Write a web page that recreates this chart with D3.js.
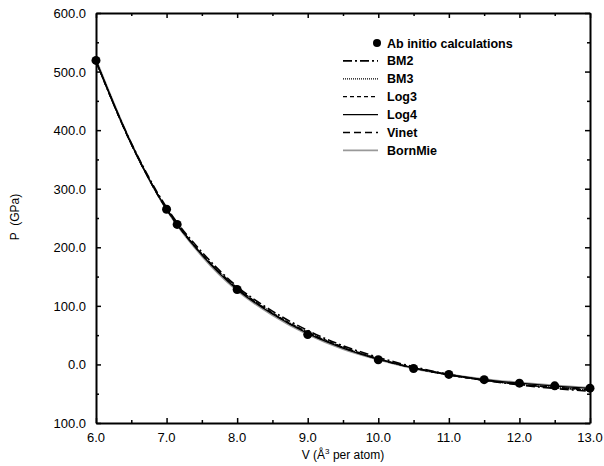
<!DOCTYPE html>
<html>
<head>
<meta charset="utf-8">
<script src="https://cdn.jsdelivr.net/npm/d3@7"></script>
<style>
  body { margin: 0; background: #fff; }
  svg { display: block; font-family: "Liberation Sans", Arial, sans-serif; }
</style>
</head>
<body>
<div id="chart"></div>
<script>
// ab initio points
const abV = [6.0, 7.0, 7.15, 8.0, 9.0, 10.0, 10.5, 11.0, 11.5, 12.0, 12.5, 13.0]
const abP = [519, 265, 239, 128, 51, 8, -7, -17, -26, -32, -36.5, -40.5]

// fitted curves, sampled every 0.5 A^3
const fitV = [6.0, 6.5, 7.0, 7.5, 8.0, 8.5, 9.0, 9.5, 10.0, 10.5, 11.0, 11.5, 12.0, 12.5, 13.0]
const bm2 = [517, 378, 268, 192, 133, 91, 58, 32, 12, -4, -17, -27, -35, -41, -46]
const bm3 = [518, 376, 265, 188, 130, 88, 55, 29, 10, -6, -18, -27, -34, -39, -44]
const log3 = [518, 376, 266, 189, 131, 88, 55, 30, 10, -6, -18, -27, -34, -40, -44]
const log4 = [519, 377, 265, 187, 128, 86, 53, 28, 9, -6, -17, -26, -32, -37, -41]
const vinet = [518, 376, 265, 188, 130, 87, 54, 29, 9, -6, -18, -27, -34, -39, -43]
const bornMie = [521, 378, 264, 185, 126, 84, 51, 26, 8, -7, -17, -25, -31, -36, -40]

const xTicks = [6, 7, 8, 9, 10, 11, 12, 13]
const yTicks = [-100, 0, 100, 200, 300, 400, 500, 600]
const yTickLabels = ['100.0', '0.0', '100.0', '200.0', '300.0', '400.0', '500.0', '600.0']

const series = [
  {name: 'BM2', values: bm2, color: '#000', width: 1.6, dash: '9,3,2,3'},
  {name: 'BM3', values: bm3, color: '#000', width: 1.3, dash: '1,1'},
  {name: 'Log3', values: log3, color: '#000', width: 1.3, dash: '4,3'},
  {name: 'Log4', values: log4, color: '#000', width: 1.3, dash: null},
  {name: 'Vinet', values: vinet, color: '#000', width: 1.5, dash: '7,4'},
  {name: 'BornMie', values: bornMie, color: '#999', width: 1.8, dash: null}
]

const width = 604, height = 466
const margin = {top: 13, right: 14, bottom: 43, left: 96}
const w = width - margin.left - margin.right
const h = height - margin.top - margin.bottom

const svg = d3.select('#chart').append('svg')
  .attr('width', width)
  .attr('height', height)
const g = svg.append('g').attr('transform', `translate(${margin.left},${margin.top})`)

const x = d3.scaleLinear().domain([6, 13]).range([0, w])
const y = d3.scaleLinear().domain([-100, 600]).range([h, 0])

// frame with inward ticks on all sides
const xMinor = d3.range(6, 13.01, 0.5)
const yMinor = d3.range(-100, 600.1, 50)
const tickLen = v => Number.isInteger(v) ? 5 : 3
const yLen = v => v % 100 === 0 ? 5 : 3

const axB = g.append('g').attr('transform', `translate(0,${h})`)
  .call(d3.axisBottom(x).tickValues(xMinor).tickSize(0).tickFormat(''))
axB.selectAll('.tick line').attr('y2', d => -tickLen(d))
const axT = g.append('g')
  .call(d3.axisTop(x).tickValues(xMinor).tickSize(0).tickFormat(''))
axT.selectAll('.tick line').attr('y2', d => tickLen(d))
const axL = g.append('g')
  .call(d3.axisLeft(y).tickValues(yMinor).tickSize(0).tickFormat(''))
axL.selectAll('.tick line').attr('x2', d => yLen(d))
const axR = g.append('g').attr('transform', `translate(${w},0)`)
  .call(d3.axisRight(y).tickValues(yMinor).tickSize(0).tickFormat(''))
axR.selectAll('.tick line').attr('x2', d => -yLen(d))
g.selectAll('.domain').attr('stroke', '#000').attr('stroke-width', 2)
g.selectAll('.tick line').attr('stroke', '#000').attr('stroke-width', 1.5)

// tick labels
g.selectAll('.xlab').data(xTicks).enter().append('text')
  .attr('x', d => x(d)).attr('y', h + 19)
  .attr('text-anchor', 'middle').attr('font-size', 13)
  .text(d => d.toFixed(1))
g.selectAll('.ylab').data(yTicks).enter().append('text')
  .attr('x', -10).attr('y', d => y(d) + 5)
  .attr('text-anchor', 'end').attr('font-size', 13)
  .text((d, i) => yTickLabels[i])

// axis titles
const xt = svg.append('text')
  .attr('x', margin.left + w / 2).attr('y', 459)
  .attr('text-anchor', 'middle').attr('font-size', 12)
  .style('white-space', 'pre')
xt.append('tspan').text('V (Å')
xt.append('tspan').attr('dy', -5).attr('font-size', 8).text('3')
xt.append('tspan').attr('dy', 5).text(' per atom)')
svg.append('text')
  .attr('transform', 'translate(19,217) rotate(-90)')
  .attr('text-anchor', 'middle').attr('font-size', 12)
  .style('white-space', 'pre')
  .text('P  (GPa)')

// curves
const line = d3.line()
  .x((d, i) => x(fitV[i]))
  .y(d => y(d))
  .curve(d3.curveMonotoneX)
series.slice().reverse().forEach(s => {
  g.append('path')
    .attr('d', line(s.values))
    .attr('fill', 'none')
    .attr('stroke', s.color)
    .attr('stroke-width', s.width)
    .attr('stroke-dasharray', s.dash)
})

// ab initio points
g.selectAll('.pt').data(abV).enter().append('circle')
  .attr('cx', d => x(d))
  .attr('cy', (d, i) => y(abP[i]))
  .attr('r', 4.5)
  .attr('fill', '#000')

// legend
const leg = svg.append('g').attr('font-size', 12.5).attr('font-weight', 'bold')
const rowY = i => 43 + i * 17.9
leg.append('circle').attr('cx', 377).attr('cy', rowY(0)).attr('r', 4).attr('fill', '#000')
leg.append('text').attr('x', 387).attr('y', rowY(0) + 4.5).text('Ab initio calculations')
series.forEach((s, i) => {
  leg.append('line')
    .attr('x1', 343).attr('x2', 378)
    .attr('y1', rowY(i + 1)).attr('y2', rowY(i + 1))
    .attr('stroke', s.color)
    .attr('stroke-width', s.width)
    .attr('stroke-dasharray', s.dash)
  leg.append('text').attr('x', 387).attr('y', rowY(i + 1) + 4.5).text(s.name)
})
</script>
</body>
</html>
